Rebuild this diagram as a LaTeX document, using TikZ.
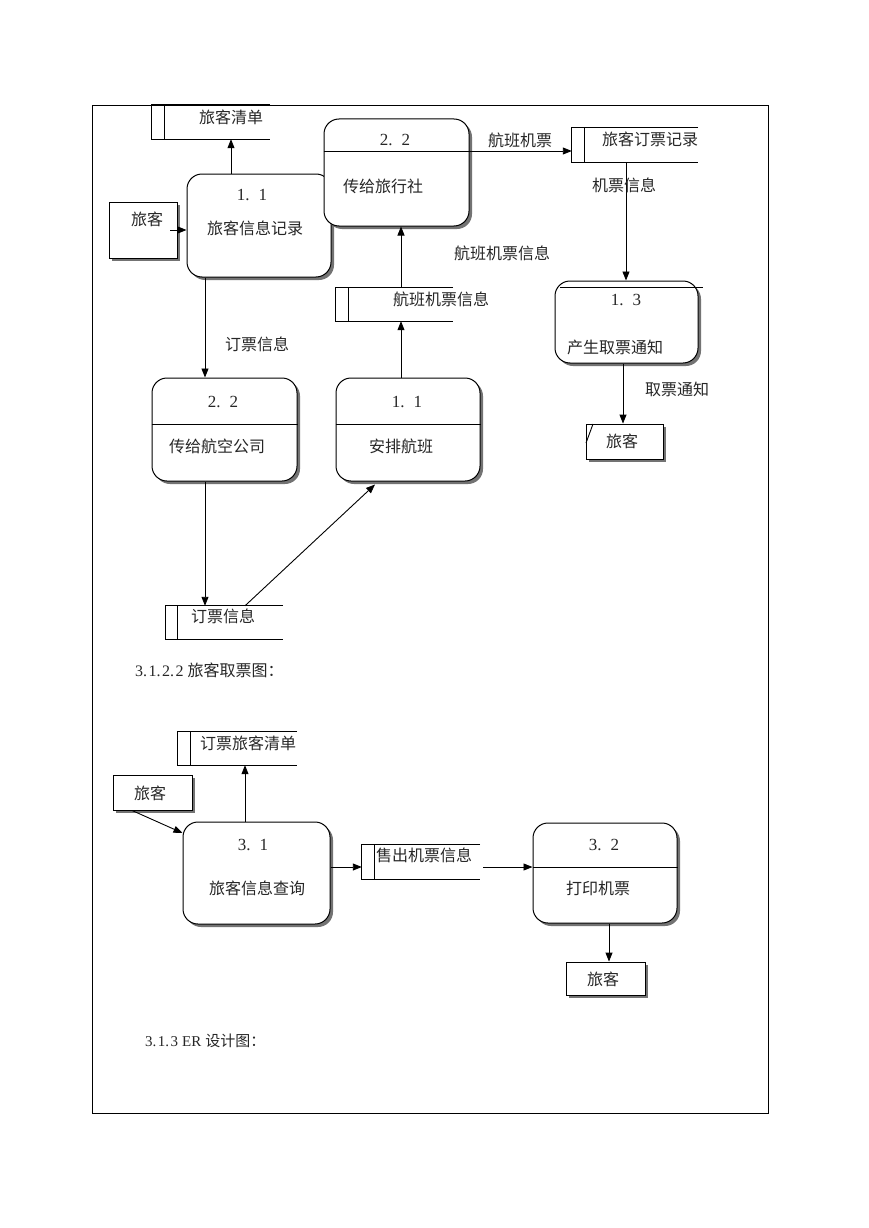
\documentclass[tikz,border=0pt]{standalone}
\usepackage{fontspec}
\newfontfamily\cjk{Noto Sans CJK SC}
\newfontfamily\snum{Liberation Serif}
\usetikzlibrary{arrows.meta,shadows}
\newcommand\dstore[2]{%
  \draw[ln] (#1.north east) -- (#1.north west) -- (#1.south west) -- (#1.south east);
  \draw[ln] ([xshift=#2]#1.north west) -- ([xshift=#2]#1.south west);}
\begin{document}
\begin{tikzpicture}[x=1pt,y=-1pt,
 every node/.style={inner sep=0pt, text=black!85},
 txt/.style={font=\cjk\fontsize{16}{18}\selectfont},
 captext/.style={font=\snum\fontsize{16}{18}\selectfont, anchor=west},
 num/.style={font=\snum\fontsize{17}{18}\selectfont},
 shad/.style={drop shadow={shadow xshift=3pt, shadow yshift=-3pt, fill=black!55, opacity=1}},
 proc/.style={draw, line width=1pt, rounded corners=15pt, fill=white, shad},
 ent/.style={draw, line width=0.9pt, fill=white, shad},
 ln/.style={line width=0.9pt},
 arr/.style={line width=0.9pt, -{Triangle[length=9pt,width=7pt]}}
]
\useasboundingbox (0,0) rectangle (869,1228);
\draw[ln] (92,105) rectangle (768,1113);

% helper coordinates
\coordinate (c231) at (231,0);
\coordinate (c205) at (205,0);
\coordinate (c401) at (401,0);
\coordinate (c626) at (626,0);
\coordinate (c623) at (623,0);
\coordinate (c245) at (245,0);
\coordinate (c375) at (375,0);
\coordinate (c132) at (132,0);
\coordinate (c609) at (609,0);
\coordinate (d151) at (0,151);
\coordinate (d230) at (0,230);
\coordinate (d424) at (0,424);
\coordinate (d833) at (0,833);
\coordinate (d867) at (0,867);

% stores
\node[minimum width=118pt, minimum height=34pt] (s1) at (211,122) {};
\dstore{s1}{13pt}
\node[txt] at (231,117) {旅客清单};
\node[minimum width=126pt, minimum height=34pt] (s2) at (635,145) {};
\dstore{s2}{13pt}
\node[txt] at (650,139) {旅客订票记录};
\node[minimum width=117pt, minimum height=33pt] (s3) at (394.5,304.5) {};
\dstore{s3}{13pt}
\node[txt] at (441,299) {航班机票信息};
\node[minimum width=117pt, minimum height=33pt] (s4) at (224.5,622.5) {};
\dstore{s4}{12pt}
\node[txt] at (223,616) {订票信息};
\node[minimum width=119pt, minimum height=33pt] (s5) at (237.5,748.5) {};
\dstore{s5}{13pt}
\node[txt] at (248,743) {订票旅客清单};
\node[minimum width=118pt, minimum height=34pt] (s6) at (421,862) {};
\dstore{s6}{13pt}
\node[txt] at (424,855) {售出机票信息};

% processes
\node[proc, minimum width=144pt, minimum height=103pt] (p1) at (259,225.5) {};
\node[num] at (252,195) {1.\hspace{9pt}1};
\node[txt] at (255,228) {旅客信息记录};

\node[proc, minimum width=145pt, minimum height=107pt] (p2) at (396.5,172.5) {};
\node[num] at (395,140) {2.\hspace{9pt}2};
\node[txt] at (383,186) {传给旅行社};
\draw[ln] (p2.west |- d151) -- (p2.east |- d151);

\node[proc, minimum width=143pt, minimum height=82pt] (p3) at (626.5,322) {};
\draw[ln] (560,287) -- (703,287);
\node[num] at (626,300) {1.\hspace{9pt}3};
\node[txt] at (615,347) {产生取票通知};

\node[proc, minimum width=145pt, minimum height=103pt] (p4) at (224.5,429.5) {};
\draw[ln] (p4.west |- d424) -- (p4.east |- d424);
\node[num] at (223,402) {2.\hspace{9pt}2};
\node[txt] at (217,446) {传给航空公司};

\node[proc, minimum width=144pt, minimum height=103pt] (p5) at (408,429.5) {};
\draw[ln] (p5.west |- d424) -- (p5.east |- d424);
\node[num] at (407,402) {1.\hspace{9pt}1};
\node[txt] at (401,446) {安排航班};

\node[proc, minimum width=147pt, minimum height=102pt] (p6) at (256.5,873) {};
\node[num] at (253,845) {3.\hspace{9pt}1};
\node[txt] at (257,888) {旅客信息查询};

\node[proc, minimum width=144pt, minimum height=100pt] (p7) at (605,873) {};
\draw[ln] (p7.west |- d867) -- (p7.east |- d867);
\node[num] at (604,845) {3.\hspace{9pt}2};
\node[txt] at (598,888) {打印机票};

% entities
\node[ent, minimum width=68pt, minimum height=56pt] (e1) at (143,230) {};
\node[txt] at (147,219) {旅客};
\node[ent, minimum width=77pt, minimum height=35pt] (e2) at (624.5,441.5) {};
\draw[ln] (593,424) -- (586,443);
\node[txt] at (622,441) {旅客};
\node[ent, minimum width=79pt, minimum height=35pt] (e3) at (152.5,792.5) {};
\node[txt] at (150,793) {旅客};
\node[ent, minimum width=79pt, minimum height=33pt] (e4) at (605.5,978.5) {};
\node[txt] at (603,979) {旅客};

% connectors
\coordinate (e1a) at (170,230);
\draw[arr] (e1a) -- (p1.west |- d230);
\draw[arr] (p1.north -| c231) -- (s1.south -| c231);
\draw[arr] (p2.east |- d151) -- (s2.west |- d151);
\node[txt] at (520,140) {航班机票};
\draw[arr] (s2.south -| c626) -- (p3.north -| c626);
\node[txt] at (624,185) {机票信息};
\draw[arr] (p3.south -| c623) -- (e2.north -| c623);
\node[txt] at (677,389) {取票通知};
\draw[arr] (p5.north -| c401) -- (s3.south -| c401);
\draw[arr] (s3.north -| c401) -- (p2.south -| c401);
\node[txt] at (502,253) {航班机票信息};
\draw[arr] (p1.south -| c205) -- (p4.north -| c205);
\node[txt] at (257,344) {订票信息};
\draw[arr] (p4.south -| c205) -- (s4.north -| c205);
\draw[arr] (s4.north -| c245) -- ([yshift=-3pt]p5.south -| c375);

\draw[arr] (e3.south -| c132) -- (p6.west |- d833);
\draw[arr] (p6.north -| c245) -- (s5.south -| c245);
\draw[arr] (p6.east |- d867) -- (s6.west |- d867);
\draw[arr] ([xshift=3pt]s6.east |- d867) -- (p7.west |- d867);
\draw[arr] (p7.south -| c609) -- (e4.north -| c609);

% captions
\node[captext] at (135,670) {3.\kern1.5pt 1.\kern1.5pt 2.\kern1.5pt 2\kern4pt{\cjk 旅客取票图：}};
\node[captext, font=\snum\fontsize{15}{17}\selectfont] at (145,1041) {3.\kern1.5pt 1.\kern1.5pt 3\kern4pt ER\kern4pt{\cjk 设计图：}};
\end{tikzpicture}
\end{document}
